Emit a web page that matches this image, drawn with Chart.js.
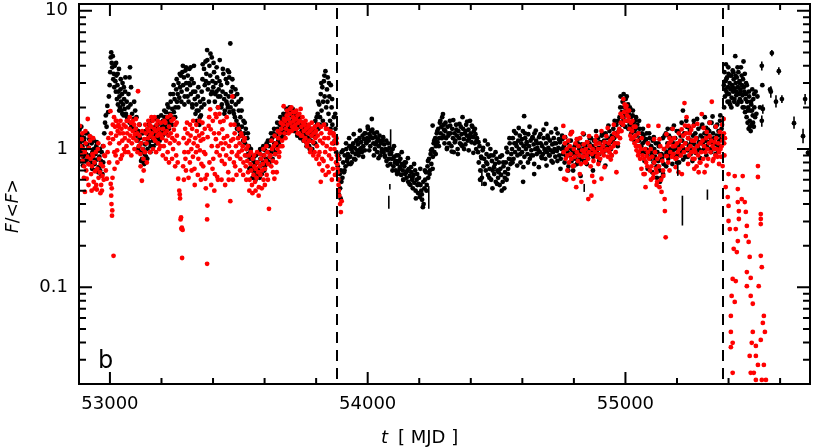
<!DOCTYPE html>
<html>
<head>
<meta charset="utf-8">
<script src="https://cdn.jsdelivr.net/npm/chart.js@4.4.1/dist/chart.umd.min.js"></script>
<style>
  html, body { margin: 0; padding: 0; background: #fff; }
  #wrap { width: 817px; height: 447px; }
</style>
</head>
<body>
<div id="wrap"><canvas id="lc" width="817" height="447"></canvas></div>
<script>
// light curve, normalised flux F/<F> vs MJD
const blackObs = [
  // 52880-52980
  [52882,1.38],[52885,1.12],[52887,0.95],[52890,1.25],[52893,1.05],[52896,0.88],[52899,1.15],[52902,0.98],[52905,1.30],[52908,0.92],
  [52911,1.08],[52914,0.85],[52917,1.02],[52920,1.18],[52923,0.90],[52926,0.80],[52929,1.10],[52932,0.95],[52935,0.86],[52938,1.00],
  [52941,0.78],[52944,0.92],[52947,1.05],[52950,0.84],[52953,0.97],[52956,0.74],[52959,0.88],[52962,0.70],[52965,0.82],[52968,0.95],
  [52971,0.66],[52974,0.80],
  // first flare
  [52978,1.30],[52981,1.55],[52984,1.75],[52987,1.45],[52990,2.05],[52993,1.85],[52996,2.40],[52999,2.9],[53001,3.6],[53003,4.6],
  [53005,5.0],[53007,4.2],[53009,3.9],[53011,4.7],[53013,3.2],[53015,3.5],[53017,2.8],[53019,4.0],
  [53021,3.1],[53023,2.6],[53025,3.4],[53027,2.3],[53029,2.9],[53031,2.1],[53033,2.6],[53035,3.8],[53037,2.4],[53039,2.0],
  [53041,2.7],[53043,2.2],[53045,1.9],[53047,2.5],[53049,3.0],[53051,2.1],[53053,1.75],[53055,2.3],[53057,1.95],[53059,2.6],
  [53062,1.8],[53065,2.2],[53068,1.6],[53071,2.0],[53074,1.7],[53076,3.3],[53078,3.9],[53077,1.55],[53080,2.1],[53083,1.45],
  [53086,1.8],[53089,1.5],[53092,1.65],[53095,1.35],[53098,1.9],
  [53101,1.4],[53104,1.25],[53107,1.15],[53110,1.35],[53113,1.05],[53116,1.20],[53119,0.95],[53122,1.10],[53125,0.85],[53128,1.0],
  [53131,0.80],[53134,0.92],[53137,1.08],[53140,0.88],[53143,1.18],[53146,1.0],[53149,1.28],[53152,1.12],[53155,1.35],[53158,1.05],
  [53161,1.22],[53164,1.4],[53167,1.15],[53170,1.3],[53173,1.2],[53176,1.45],[53179,1.25],[53182,1.35],[53185,1.5],[53188,1.2],
  [53191,1.38],[53194,1.28],[53197,1.55],[53200,1.3],
  // second and third flares
  [53203,1.45],[53206,1.6],[53209,1.35],[53212,1.7],[53215,1.5],[53218,1.85],[53221,1.4],[53224,1.65],[53227,2.0],[53230,1.55],
  [53233,1.8],[53236,2.2],[53239,1.7],[53242,1.95],[53245,2.5],[53248,1.85],[53251,2.3],[53254,2.0],[53257,2.7],[53260,2.2],
  [53263,2.5],[53266,3.0],[53269,2.35],[53272,2.8],
  [53275,3.4],[53278,2.6],[53281,3.6],[53284,2.9],[53287,3.3],[53290,2.4],[53293,3.7],[53296,3.0],[53299,2.7],[53302,3.4],
  [53305,2.2],[53308,3.8],[53311,2.9],[53314,2.5],[53317,3.2],[53320,2.0],[53323,2.6],[53326,4.0],[53329,2.3],[53332,1.8],
  [53335,2.1],[53338,1.6],[53341,2.4],[53344,1.9],[53347,1.5],[53350,2.2],[53353,1.75],
  [53356,2.6],[53359,3.2],[53362,2.3],[53365,3.8],[53368,2.9],[53371,4.3],[53374,3.5],[53377,5.2],[53380,2.7],[53383,3.0],
  [53386,4.0],[53389,3.4],[53392,2.5],[53395,4.6],[53398,3.1],[53401,2.8],[53404,3.6],[53407,2.2],[53410,3.0],[53413,2.6],
  [53416,3.3],[53419,2.0],[53422,2.7],[53425,3.1],[53428,2.4],[53431,2.9],[53434,2.1],[53437,2.6],[53440,3.5],[53443,2.3],
  [53446,1.9],[53449,2.5],[53452,2.2],[53455,3.0],[53457,3.7],[53458,2.0],[53461,2.4],[53463,3.3],[53464,1.85],[53467,5.8],
  [53470,2.6],
  [53473,2.2],[53476,2.8],[53479,1.9],[53482,2.4],[53485,1.7],[53488,2.1],[53491,1.6],[53494,2.5],[53497,1.5],[53500,1.9],
  [53503,1.35],[53506,1.7],[53509,2.3],[53512,1.45],[53515,1.25],[53518,1.6],[53521,1.3],[53524,1.1],[53527,1.4],[53530,1.0],
  [53533,1.2],[53536,0.92],
  // dip and slow rise
  [53539,1.05],[53542,0.85],[53545,0.95],[53548,0.75],[53551,0.88],[53554,0.7],[53557,0.82],[53560,0.65],[53563,0.78],[53566,0.9],
  [53569,0.68],[53572,0.8],[53575,0.72],[53578,0.95],[53581,0.62],[53584,0.85],[53587,0.76],[53590,1.0],[53593,0.8],[53596,0.9],
  [53599,0.7],[53602,0.98],[53605,0.85],[53608,1.1],[53611,0.82],[53614,0.95],
  [53617,1.05],[53620,0.88],[53623,1.15],[53626,0.95],[53629,1.2],[53632,1.0],[53635,1.3],[53638,1.1],[53641,0.92],[53644,1.25],
  [53647,1.05],[53650,1.4],[53653,1.15],[53656,1.3],[53659,1.5],[53662,1.2],[53665,1.35],[53668,1.6],[53671,1.25],[53674,1.45],
  [53677,1.7],[53680,1.35],[53683,1.55],[53686,1.8],[53689,1.4],[53692,1.65],[53695,1.5],[53698,1.9],[53701,1.55],[53704,1.75],
  [53707,1.45],[53710,1.6],[53713,1.85],[53716,1.5],[53719,1.7],[53722,1.4],[53725,1.55],[53728,1.3],[53731,1.65],[53734,1.45],
  [53737,1.25],[53740,1.5],[53743,1.35],[53746,1.2],[53749,1.45],[53752,1.3],[53755,1.15],[53758,1.4],[53761,1.25],[53764,1.1],
  [53767,1.35],[53770,1.2],[53773,1.05],[53776,1.3],[53779,1.15],[53782,1.4],[53785,1.0],[53788,1.25],[53791,1.1],
  [53794,1.35],[53797,1.6],[53800,1.25],[53803,1.5],[53806,1.8],[53809,1.4],[53812,2.1],[53815,1.7],[53818,2.5],[53821,1.9],
  [53824,2.8],[53827,2.2],[53830,3.1],[53833,2.4],[53836,3.66],[53839,2.0],[53842,2.7],[53845,3.3],[53848,1.8],[53851,2.4],
  [53854,1.6],[53857,2.9],[53860,2.0],[53863,1.5],[53866,1.3],[53869,1.7],[53872,1.15],[53875,1.4],[53878,0.95],
  // after the first break
  [53884,0.75],[53887,0.6],[53888,0.47],[53890,0.85],[53893,0.52],[53895,0.44],[53896,0.7],[53899,0.95],[53902,0.62],[53905,0.8],
  [53908,0.68],[53911,0.9],[53914,0.75],[53917,1.0],[53920,0.82],[53923,0.92],[53926,0.78],[53929,1.05],
  [53932,0.88],[53935,1.0],[53938,0.8],[53941,0.95],[53944,1.1],[53947,0.85],[53950,1.02],[53953,0.92],[53956,1.15],[53959,0.98],
  [53962,1.08],[53965,0.9],[53968,1.2],[53971,1.0],[53974,1.12],[53977,0.95],[53980,1.25],[53983,1.05],[53986,1.18],[53989,0.98],
  [53992,1.3],[53995,1.1],[53998,1.2],[54001,1.4],[54004,1.15],[54007,1.28],[54010,1.05],[54013,1.35],[54016,1.65],[54019,1.2],
  [54022,1.1],[54025,1.3],[54028,1.0],[54031,1.22],[54034,1.12],[54037,0.95],[54040,1.18],[54043,1.05],[54046,1.25],[54049,0.9],
  [54052,1.1],[54055,1.0],[54058,1.15],
  [54061,0.95],[54064,1.08],[54067,0.88],[54070,1.0],[54073,0.82],[54076,0.98],[54079,1.1],[54082,0.85],[54085,0.92],[54088,0.78],
  [54091,0.95],[54094,0.85],[54097,1.0],[54100,0.75],[54103,0.88],[54106,0.8],[54109,0.7],[54112,0.9],[54115,0.78],[54118,0.68],
  [54121,0.82],[54124,0.72],[54127,0.85],[54130,0.65],[54133,0.78],[54136,0.7],[54139,0.6],[54142,0.75],[54145,0.66],[54148,0.8],
  [54151,0.62],[54154,0.7],[54157,0.58],[54160,0.72],[54163,0.64],[54166,0.55],[54169,0.68],[54172,0.6],[54175,0.52],[54178,0.65],
  [54181,0.57],[54184,0.7],[54187,0.44],[54190,0.6],[54193,0.55],[54196,0.48],[54199,0.62],[54202,0.45],[54205,0.55],[54208,0.5],
  [54211,0.43],[54214,0.38],[54217,0.4],[54220,0.52],[54223,0.6],
  [54226,0.68],[54229,0.55],[54232,0.75],[54235,0.62],[54238,0.85],[54241,0.7],[54244,0.92],[54247,0.78],[54250,1.0],[54252,1.48],
  [54253,0.88],[54256,1.1],[54259,0.95],[54262,1.2],[54265,1.05],[54268,1.3],[54271,1.12],[54274,1.4],[54277,1.2],[54280,1.55],
  [54283,1.3],[54286,1.45],[54289,1.7],[54292,1.79],[54294,1.25],[54295,1.5],
  [54298,1.1],[54301,1.35],[54304,1.2],[54307,1.0],[54310,1.45],[54313,1.25],[54316,1.1],[54319,1.6],[54322,1.3],[54325,1.05],
  [54328,1.4],[54331,1.2],[54334,0.95],[54337,1.3],[54340,1.15],[54343,1.5],[54346,1.25],[54349,1.0],[54352,1.35],[54355,1.2],
  [54358,1.1],[54361,1.45],[54364,1.28],[54367,1.05],[54370,1.4],[54373,1.18],[54376,1.3],[54379,1.08],[54382,1.5],[54385,1.25],
  [54388,1.15],[54391,1.38],[54394,1.2],[54397,1.6],[54400,1.3],[54403,1.12],[54406,1.45],[54409,1.22],[54412,1.35],[54415,1.1],
  [54418,1.28],[54421,1.0],[54424,1.2],
  [54428,0.95],[54431,0.8],[54434,1.05],[54437,0.7],[54440,0.88],[54443,0.62],[54446,0.98],[54449,0.75],[54452,0.85],[54455,1.15],
  [54458,0.7],[54461,0.92],[54464,0.78],[54467,0.65],[54470,0.88],[54473,0.72],[54476,1.0],[54479,0.6],[54482,0.82],[54485,0.7],
  [54488,0.9],[54491,0.66],[54494,0.78],[54497,0.58],[54500,0.85],[54503,0.7],[54506,0.62],[54509,0.8],[54512,0.55],[54515,0.72],
  [54518,0.65],[54521,0.9],[54524,0.58],[54527,0.75],[54530,0.52],[54533,0.68],[54536,0.8],[54539,0.6],[54542,0.95],[54545,0.72],
  [54548,0.85],[54551,1.1],[54554,0.78],[54557,0.92],
  [54560,1.0],[54563,1.2],[54566,0.85],[54569,1.1],[54572,0.95],[54575,1.3],[54578,1.05],[54581,0.9],[54584,1.15],[54587,1.0],
  [54590,1.25],[54593,0.8],[54596,1.1],[54599,0.95],[54602,1.35],[54603,0.58],[54605,1.05],[54607,1.73],[54608,0.88],[54611,1.2],
  [54614,1.0],[54617,1.12],[54620,0.92],[54623,1.28],[54626,1.05],[54629,0.85],[54632,1.15],[54635,0.98],[54638,1.2],[54641,0.9],
  [54644,1.08],[54646,0.66],[54647,1.3],[54650,1.0],[54653,1.15],[54656,0.92],[54659,1.1],[54662,0.98],[54665,1.22],
  [54668,0.95],[54671,1.1],[54674,0.88],[54677,1.05],[54680,0.92],[54683,1.2],[54686,1.0],[54689,0.85],[54692,1.1],[54693,1.52],
  [54695,0.95],[54698,1.25],[54701,1.02],[54704,0.9],[54707,1.15],[54710,0.98],[54713,0.82],[54716,1.08],[54719,0.95],[54722,1.2],
  [54725,1.0],[54728,0.88],[54731,1.1],[54734,0.97],[54737,1.3],[54740,1.02],[54743,0.9],[54746,1.12],[54749,0.85],[54752,1.0],
  [54755,1.18],[54758,0.92],[54761,1.05],[54764,0.8],[54767,1.0],[54770,0.88],[54773,1.1],[54776,0.95],[54779,0.75],[54782,1.02],
  [54785,0.9],[54788,1.15],[54791,0.82],[54794,0.98],[54797,0.7],[54800,0.92],[54803,1.05],[54806,0.85],[54809,0.95],[54812,0.78],
  [54815,1.1],[54818,0.9],[54821,1.0],[54824,0.84],[54827,0.96],[54830,1.08],[54833,0.88],[54836,1.0],[54839,0.82],[54842,0.94],
  [54845,1.05],[54848,0.9],[54851,1.12],[54854,0.86],[54857,0.98],[54860,1.1],[54863,0.92],[54866,1.2],[54869,0.95],[54872,1.05],
  [54875,0.88],[54878,1.15],[54881,1.0],[54884,0.9],[54887,1.1],[54890,0.98],[54893,1.2],[54896,1.02],[54899,0.92],[54902,1.12],
  [54905,1.0],[54908,1.25],[54911,1.05],[54914,0.95],[54917,1.15],[54920,1.02],[54923,1.3],[54926,1.1],[54929,0.98],[54932,1.2],
  [54935,1.05],[54938,1.35],[54941,1.12],[54944,1.0],[54947,1.25],[54950,1.15],[54953,1.4],[54956,1.2],[54959,1.1],[54962,1.3],
  [54965,1.5],[54968,1.25],[54971,1.6],[54974,1.35],
  [54977,1.7],[54980,2.0],[54983,1.55],[54986,1.85],[54989,2.2],[54992,1.65],[54995,2.0],[54998,1.75],[55001,2.3],[55004,1.9],
  [55007,1.6],[55010,2.1],[55013,1.8],[55016,1.5],[55019,1.95],[55022,1.7],[55025,1.45],[55028,1.75],[55031,1.55],[55034,1.35],
  [55037,1.6],[55040,1.4],[55043,1.25],[55046,1.5],[55049,1.3],[55052,1.15],[55055,1.4],[55058,1.2],[55061,1.05],[55064,1.3],
  [55067,1.1],[55070,1.25],[55073,0.95],[55076,1.15],[55079,1.0],[55082,1.3],[55085,0.9],[55088,1.1],[55091,0.98],[55094,1.2],
  [55097,0.85],[55100,1.05],[55103,0.92],[55106,1.15],[55109,0.8],[55112,1.0],[55115,0.88],[55118,1.1],[55121,0.75],[55124,0.95],
  [55127,0.82],[55130,1.05],[55133,0.7],[55136,0.9],[55139,0.62],[55142,0.85],[55145,1.2],[55148,0.78],[55151,1.0],[55154,0.9],
  [55157,1.3],[55160,0.95],[55163,1.1],[55166,0.85],[55169,1.25],[55172,1.0],[55175,0.9],[55178,1.15],[55181,1.4],[55184,0.98],
  [55187,1.1],[55190,0.88],[55193,1.2],[55196,1.0],[55199,1.35],[55202,0.92],[55205,1.1],[55208,0.8],[55211,1.05],[55214,1.25],
  [55217,0.95],[55220,1.15],[55223,1.9],[55226,1.0],[55229,1.3],[55232,0.88],[55235,1.1],[55238,1.45],[55241,0.98],[55244,1.2],
  [55247,1.05],[55250,1.35],[55253,0.92],[55256,1.15],[55259,1.0],[55262,1.25],[55265,1.6],[55268,1.08],[55271,1.3],[55274,0.95],
  [55277,1.2],[55280,1.05],[55283,1.4],[55286,1.12],[55289,0.98],[55292,1.25],[55295,1.1],[55298,1.5],[55301,1.2],[55304,1.0],
  [55307,1.3],[55310,1.15],[55313,1.42],[55316,1.05],[55319,1.25],[55322,1.12],[55325,1.35],[55328,1.0],[55331,1.2],[55334,1.55],
  [55337,1.1],[55340,1.3],[55343,1.0],[55346,1.2],[55349,1.45],[55352,1.08],[55355,1.25],[55358,0.98],[55361,1.35],[55364,1.15],
  [55367,1.6],[55370,1.25],[55373,1.4],
  // after the second break
  [55382,2.9],[55384,3.6],[55386,2.4],[55388,3.1],[55390,4.1],[55392,2.6],[55394,3.3],[55396,2.2],[55398,2.8],[55400,3.5],
  [55402,2.5],[55404,3.0],[55406,2.1],[55408,2.7],[55410,3.4],[55412,2.35],[55414,2.9],[55416,3.7],[55418,2.6],[55420,3.2],
  [55422,2.2],[55424,2.75],[55426,4.7],[55428,3.0],[55430,2.45],[55432,3.3],[55434,2.1],[55436,2.8],[55438,3.6],[55440,2.5],
  [55442,3.1],[55444,2.3],[55446,2.7],[55448,3.9],[55450,2.2],[55452,2.9],[55454,2.45],[55456,3.2],[55458,4.3],[55460,2.0],
  [55462,2.6],[55464,1.85],[55466,2.3],[55468,3.0],[55470,1.7],[55472,2.2],[55474,1.55],[55476,2.0],[55478,1.4],[55480,2.4],
  [55482,1.6],[55484,1.9],[55486,1.35],[55488,2.1],[55490,1.5],[55492,2.7],[55494,1.75],[55496,2.3],[55498,1.45],[55500,2.0],
  [55505,2.6],[55508,1.8],[55512,2.4],
  [55522,2.0],[55529,4.0],[55529,1.6],[55531,2.9],[55533,1.95],[55561,2.7],[55564,2.6],[55568,4.95],[55584,2.2],[55595,3.66],
  [55607,2.3],[55654,1.54],[55689,1.24],[55697,2.3],[55708,0.94],
  // upper and lower edges of the scatter band
  [52884,0.82],[52889,1.45],[52895,0.76],[52900,1.2],[52906,0.82],[52912,1.3],[52918,0.78],[52925,1.22],[52931,0.72],[52937,1.15],
  [52943,0.7],[52949,1.12],[52955,0.68],[52961,1.0],[52967,0.64],[52973,1.05],
  [53024,4.2],[53030,3.5],[53036,1.9],[53042,3.2],[53048,1.8],[53054,2.8],[53060,3.3],[53066,1.7],[53072,2.5],[53082,2.8],
  [53088,1.4],[53094,2.2],
  [53103,1.7],[53109,1.0],[53115,1.5],[53121,0.82],[53127,1.3],[53133,0.78],[53139,1.35],[53145,0.85],[53151,1.5],[53157,0.95],
  [53163,1.6],[53169,1.05],[53175,1.65],[53181,1.1],[53187,1.7],[53193,1.15],[53199,1.75],
  [53205,1.25],[53211,1.9],[53217,1.3],[53223,2.1],[53229,1.4],[53235,2.5],[53241,1.5],[53247,2.9],[53253,1.7],[53259,3.2],
  [53265,2.0],[53271,3.5],[53277,2.2],[53283,4.0],[53289,2.1],[53295,3.9],[53301,2.4],[53307,3.0],[53313,3.9],[53319,2.1],
  [53325,3.0],[53331,2.6],[53337,1.9],[53343,2.8],[53349,1.7],[53355,2.0],
  [53360,4.1],[53366,2.1],[53372,3.1],[53378,4.4],[53384,2.2],[53390,4.9],[53396,2.6],[53402,4.2],[53408,2.5],[53414,3.9],
  [53420,2.4],[53426,4.4],[53432,2.0],[53438,3.8],[53444,1.8],[53450,3.2],[53456,2.1],[53462,3.6],[53468,2.0],
  [53475,3.2],[53481,1.8],[53487,2.7],[53493,1.4],[53499,2.2],[53505,1.25],[53511,1.9],[53517,1.15],[53523,1.55],[53529,0.9],
  [53535,1.3],
  [53541,0.72],[53547,1.0],[53553,0.62],[53559,0.88],[53565,0.6],[53571,0.92],[53577,0.64],[53583,1.0],[53589,0.66],[53595,1.05],
  [53601,0.75],[53607,0.8],[53613,1.15],
  [53619,0.8],[53625,1.3],[53631,0.85],[53637,1.4],[53643,0.95],[53649,1.55],[53655,1.1],[53661,1.7],[53667,1.2],[53673,1.8],
  [53679,1.3],[53685,1.95],[53691,1.35],[53697,2.0],[53703,1.4],[53709,1.95],[53715,1.35],[53721,1.8],[53727,1.25],[53733,1.7],
  [53739,1.2],[53745,1.55],[53751,1.15],[53757,1.5],[53763,1.05],[53769,1.45],[53775,1.0],[53781,1.3],[53787,0.95],
  [53796,1.1],[53802,1.7],[53808,2.2],[53814,1.5],[53820,3.0],[53826,1.6],[53832,3.4],[53838,1.5],[53844,2.2],[53850,3.0],
  [53856,1.4],[53862,2.3],[53868,1.1],[53874,1.8],
  [53886,0.9],[53892,0.66],[53898,0.58],[53904,0.98],[53910,0.7],[53916,1.1],[53922,0.86],[53928,1.2],[53934,0.78],[53940,1.05],
  [53946,1.28],[53952,0.84],[53958,1.15],[53964,0.95],[53970,1.36],[53976,1.02],[53982,0.88],[53988,1.3],[53994,1.12],[54000,1.45],
  [54006,0.98],[54012,1.22],[54018,1.38],[54024,0.9],[54030,1.08],[54036,1.32],[54042,0.86],[54048,1.15],[54054,0.96],[54060,1.22],
  [54066,0.9],[54072,1.15],[54078,0.76],[54084,1.02],[54090,0.92],[54096,0.7],[54102,1.05],[54108,0.82],[54114,0.66],[54120,0.9],
  [54126,0.74],[54132,0.95],[54138,0.6],[54144,0.8],[54150,0.68],[54156,0.86],[54162,0.56],[54168,0.74],[54174,0.62],[54180,0.78],
  [54186,0.5],[54192,0.66],[54198,0.56],[54204,0.72],[54210,0.47],[54216,0.58],[54222,0.7],
  [54228,0.5],[54234,0.82],[54240,0.66],[54246,0.98],[54252,0.72],[54258,1.15],[54264,0.92],[54270,1.35],[54276,1.05],[54282,1.6],
  [54288,1.2],[54296,1.38],
  [54302,1.55],[54308,1.02],[54314,1.3],[54320,1.48],[54326,0.96],[54332,1.62],[54338,1.12],[54344,1.38],[54350,0.92],[54356,1.52],
  [54362,1.08],[54368,1.7],[54374,1.0],[54380,1.35],[54386,1.58],[54392,0.98],[54398,1.25],[54404,1.48],[54410,0.94],[54416,1.4],
  [54422,1.15],
  [54430,1.12],[54436,0.6],[54442,0.86],[54448,1.02],[54454,0.56],[54460,0.8],[54466,1.08],[54472,0.62],[54478,0.9],[54484,0.52],
  [54490,0.74],[54496,0.95],[54502,0.56],[54508,0.68],[54514,0.88],[54520,0.5],[54526,0.8],[54532,0.62],[54538,1.02],[54544,0.66],
  [54550,1.2],[54556,0.84],
  [54562,0.8],[54568,1.35],[54574,1.1],[54580,0.76],[54586,1.42],[54592,0.92],[54598,1.18],[54604,0.74],[54610,1.3],[54616,1.08],
  [54622,0.8],[54628,1.45],[54634,0.9],[54640,1.22],[54646,0.78],[54652,1.36],[54658,1.02],[54664,0.74],[54670,1.28],[54676,0.86],
  [54682,1.38],[54688,0.98],[54694,0.76],[54700,1.2],[54706,0.9],[54712,1.32],[54718,0.8],[54724,1.1],[54730,1.4],[54736,0.82],
  [54742,1.18],[54748,0.72],[54754,1.25],
  [54766,1.22],[54778,0.7],[54790,1.32],[54802,0.76],[54814,1.18],[54826,0.64],[54838,1.28],[54850,0.78],[54862,1.2],[54874,0.7],
  [54886,1.35],[54898,0.82],[54910,1.3],[54922,0.76],[54934,1.48],[54946,0.9],[54958,1.6],[54970,1.05],
  [54981,2.4],[54987,1.5],[54993,2.5],[54999,1.45],[55005,2.4],[55011,1.4],[55017,2.0],[55023,1.3],[55029,1.9],[55035,1.15],
  [55041,1.7],[55047,1.05],[55053,1.6],[55059,0.95],
  [55068,1.4],[55074,0.82],[55080,1.18],[55086,0.72],[55092,1.3],[55098,0.95],[55104,0.68],[55110,1.22],[55116,0.85],[55122,0.62],
  [55128,1.1],[55134,0.58],[55140,0.92],[55146,0.66],[55152,1.25],[55158,0.75],[55164,1.4],[55170,0.9],[55176,1.2],[55182,0.78],
  [55188,1.48],[55194,1.05],[55200,0.8],[55206,1.35],[55212,0.9],[55218,1.55],[55224,0.84],[55230,1.3],[55236,1.6],[55242,0.88],
  [55248,1.42],[55254,1.1],[55260,0.82],[55266,1.5],[55272,0.94],[55278,1.65],[55284,1.0],[55290,0.86],[55296,1.45],[55302,1.12],
  [55308,1.7],[55314,0.9],[55320,1.38],[55326,1.55],[55332,0.95],[55338,1.72],[55344,1.18],[55350,0.92],[55356,1.5],[55362,1.05],
  [55368,1.75],[55374,1.2],
  [55383,2.0],[55387,2.7],[55391,3.2],[55395,2.5],[55399,3.9],[55403,2.2],[55407,3.4],[55411,2.0],[55415,2.8],[55419,3.6],
  [55423,2.3],[55427,3.4],[55431,2.6],[55435,3.9],[55439,2.2],[55443,3.0],[55447,2.6],[55451,3.4],[55455,2.0],[55459,2.8],
  [55463,3.5],[55467,2.5],[55471,2.9],[55475,1.9],[55479,2.6],[55483,1.45],[55487,2.2],[55491,1.9],[55495,1.55],[55499,2.5],
  [55503,1.7]
];

const redObs = [
  // 52880-53060
  [52883,1.47],[52886,1.05],[52889,0.9],[52891,1.18],[52894,0.82],[52897,1.0],[52900,0.75],[52903,0.95],[52903,0.49],[52906,1.1],
  [52908,0.7],[52910,0.61],[52912,0.88],[52914,1.65],[52916,0.78],[52919,1.02],[52922,1.24],[52925,0.85],[52927,0.66],[52930,0.75],
  [52932,0.92],[52934,0.89],[52937,0.58],[52940,0.8],[52942,0.69],[52945,0.95],[52947,0.55],[52949,0.51],[52951,0.72],[52953,1.0],
  [52956,0.62],[52958,0.85],[52961,0.68],[52964,0.78],[52966,0.55],[52969,0.5],[52971,0.64],[52973,0.75],[52976,0.6],[52978,0.9],
  [52981,0.89],[52984,0.7],[52988,0.61],
  [52991,0.95],[52994,1.2],[52997,0.8],[53000,1.1],[53002,1.88],[53003,0.56],[53004,1.3],[53005,0.46],[53006,0.4],[53007,0.52],
  [53008,0.33],[53009,0.36],[53010,0.62],[53012,1.18],[53014,0.169],[53016,1.7],[53018,0.72],[53020,1.45],[53022,0.9],[53024,1.25],
  [53026,1.6],[53028,0.98],[53030,1.35],[53033,1.5],[53036,1.1],[53039,1.3],[53042,0.85],[53045,1.4],[53048,1.15],[53051,1.3],
  [53054,1.0],
  // 53060-53300
  [53058,1.2],[53061,1.45],[53064,1.05],[53067,1.3],[53070,1.6],[53073,1.15],[53076,1.4],[53079,1.25],[53082,1.55],[53085,1.1],
  [53088,1.35],[53091,1.2],[53094,1.5],[53097,1.28],[53100,1.4],[53103,1.15],[53106,1.3],[53109,2.62],[53112,1.05],[53115,1.25],
  [53118,0.92],[53121,1.1],[53124,0.59],[53127,1.0],[53130,0.85],[53133,1.18],[53136,0.95],[53139,1.3],[53142,1.1],[53145,1.4],
  [53148,1.2],[53151,1.35],[53154,1.5],[53157,1.25],[53160,1.45],[53163,1.3],[53166,1.6],[53169,1.2],[53172,1.4],[53175,1.15],
  [53178,1.35],[53181,1.5],[53184,1.25],[53187,1.1],[53190,1.4],[53193,1.3],[53196,1.05],[53199,1.25],
  [53203,1.2],[53206,1.4],[53209,1.05],[53212,1.3],[53215,1.55],[53218,1.15],[53221,1.35],[53224,0.95],[53227,1.25],[53230,1.45],
  [53233,1.1],[53236,1.3],[53239,1.6],[53242,1.2],[53245,1.0],[53248,1.38],[53251,1.15],[53254,1.5],[53257,0.9],[53260,1.25],
  [53263,0.8],[53265,0.61],[53267,1.1],[53269,0.5],[53271,0.47],[53272,0.44],[53274,0.31],[53276,0.32],[53277,0.265],[53279,0.27],
  [53280,0.163],[53282,0.26],[53284,0.75],[53286,1.2],[53289,0.95],[53292,1.4],[53295,0.7],[53298,1.1],
  // 53300-53500
  [53301,1.3],[53304,0.95],[53307,1.15],[53310,0.8],[53313,1.25],[53316,1.0],[53319,1.4],[53322,0.88],[53325,1.1],[53328,0.72],
  [53331,1.2],[53334,0.95],[53337,1.35],[53340,1.05],[53343,0.85],[53346,1.25],[53349,0.98],[53352,1.15],[53355,0.78],[53358,1.3],
  [53362,1.18],[53362,0.75],[53365,0.95],[53368,1.4],[53370,0.92],[53370,0.61],[53372,0.52],[53376,0.65],[53377,0.31],[53377,0.148],
  [53378,0.39],[53379,1.22],[53383,1.47],[53386,0.8],[53389,1.94],[53391,1.39],[53395,1.05],[53398,0.72],[53401,0.85],[53404,1.3],
  [53407,0.66],[53409,1.79],[53411,1.18],[53414,0.95],[53416,0.63],[53418,1.05],[53420,2.0],[53423,1.3],[53426,0.9],[53428,1.57],
  [53431,1.1],[53434,0.82],[53436,1.39],[53439,1.0],[53442,1.2],[53445,0.78],[53448,1.1],[53451,0.9],[53455,1.24],[53459,0.68],
  [53462,1.05],[53465,0.85],[53467,0.42],[53470,1.15],[53473,0.95],[53475,2.4],[53478,1.18],[53481,0.8],[53484,1.3],[53486,0.75],
  [53489,1.05],[53492,0.9],[53494,0.89],
  // 53500-53620
  [53497,1.2],[53500,0.95],[53503,1.1],[53506,0.85],[53509,1.3],[53512,0.98],[53515,1.05],[53518,0.8],[53521,1.15],[53524,0.9],
  [53527,0.75],[53530,1.0],[53533,0.82],[53536,0.68],[53539,0.9],[53542,0.6],[53545,0.78],[53548,0.7],[53551,0.55],[53554,0.85],
  [53557,0.65],[53560,0.75],[53563,0.58],[53566,0.72],[53569,0.62],[53572,0.8],[53575,0.68],[53578,0.53],[53581,0.75],[53584,0.65],
  [53587,0.85],[53590,0.7],[53593,0.78],[53596,0.6],[53599,0.9],[53602,0.72],[53605,0.82],[53608,0.65],[53611,0.95],[53614,0.78],
  [53617,0.37],[53620,0.88],
  // 53620-53900
  [53623,0.9],[53626,0.75],[53629,1.0],[53632,0.82],[53635,1.05],[53638,0.61],[53641,0.92],[53644,1.1],[53647,0.68],[53650,1.0],
  [53653,1.2],[53656,0.88],[53659,1.3],[53662,1.05],[53665,1.4],[53668,1.15],[53671,1.5],[53674,2.04],[53677,1.3],[53680,1.6],
  [53683,1.4],[53686,1.75],[53689,1.5],[53692,1.65],[53695,1.35],[53698,1.8],[53701,1.55],[53704,2.0],[53707,1.45],[53710,1.7],
  [53713,1.6],[53716,1.85],[53719,1.5],[53722,1.65],[53725,1.4],[53728,1.75],[53731,1.55],[53734,1.3],[53737,1.6],[53740,1.95],
  [53743,1.45],[53746,1.25],[53749,1.55],[53752,1.35],[53755,1.5],[53758,1.2],[53761,1.4],[53764,1.1],[53767,1.3],[53770,1.45],
  [53773,1.15],[53776,1.35],[53779,1.0],[53782,1.25],[53785,1.4],[53788,1.12],[53791,1.3],[53794,0.95],[53797,1.2],[53800,1.35],
  [53803,1.05],[53806,1.25],[53809,0.9],[53812,0.78],[53815,1.15],[53818,0.58],[53820,1.3],[53823,0.85],[53826,1.1],[53829,0.82],
  [53832,1.2],[53835,0.95],[53838,1.4],[53841,1.05],[53844,0.75],[53847,1.2],[53850,0.9],[53853,1.3],[53856,1.0],[53859,0.85],
  [53862,1.1],[53865,0.72],[53868,1.25],[53871,1.0],[53874,1.15],[53877,0.8],
  [53880,1.1],[53881,0.9],[53882,0.78],[53883,0.72],[53884,0.68],[53885,0.85],[53886,0.6],[53887,0.55],[53888,0.5],[53890,0.46],
  [53893,0.4],[53896,0.35],[53899,0.42],
  // 54760-55380
  [54759,1.47],[54760,0.95],[54762,0.61],[54765,1.1],[54768,0.85],[54770,0.6],[54772,1.0],[54775,0.9],[54778,1.15],[54781,0.8],
  [54784,1.05],[54787,0.92],[54790,0.85],[54793,1.33],[54796,0.75],[54798,0.61],[54800,1.0],[54803,0.88],[54806,1.1],[54809,0.53],
  [54812,0.95],[54815,0.82],[54818,1.05],[54821,0.9],[54824,1.2],[54827,0.78],[54829,0.58],[54832,0.98],[54835,0.88],[54838,1.08],
  [54840,0.95],[54843,0.8],[54846,1.0],[54849,0.9],[54852,1.12],[54855,0.85],[54856,0.435],[54859,0.95],[54862,1.05],[54865,0.75],
  [54868,0.46],[54870,0.92],[54873,1.0],[54876,0.82],[54879,0.58],[54882,0.95],[54885,1.08],[54887,1.24],[54890,0.88],[54893,1.0],
  [54896,0.92],[54899,1.1],[54902,0.85],[54905,1.0],[54907,0.61],[54910,0.95],[54913,1.05],[54916,0.9],[54919,1.12],[54922,0.98],
  [54926,1.24],[54929,1.0],[54932,0.88],[54935,1.1],[54938,0.95],[54941,1.15],[54944,1.02],[54947,0.9],[54950,1.2],[54953,1.05],
  [54956,1.3],[54959,1.1],[54962,0.95],[54965,0.68],[54968,1.25],[54971,1.1],[54973,1.33],[54976,1.4],[54979,1.2],[54982,1.55],
  [54985,1.35],[54988,1.7],[54991,1.5],[54992,2.3],[54995,1.85],[54998,1.6],[55001,2.0],[55004,2.05],[55007,1.75],[55010,1.6],
  [55012,1.7],[55014,1.9],[55016,1.4],[55019,1.25],[55021,1.55],[55023,1.18],[55026,1.35],[55029,1.2],[55032,1.45],[55035,1.1],
  [55038,1.25],[55041,1.05],[55043,0.98],[55046,1.15],[55049,0.9],[55051,0.95],[55054,1.05],[55057,0.85],[55060,1.0],[55062,0.72],
  [55066,0.9],[55070,0.66],[55073,0.85],[55076,1.0],[55078,0.53],[55080,0.8],[55082,0.89],[55085,0.75],[55087,0.95],[55089,1.47],
  [55092,0.85],[55095,0.7],[55098,1.0],[55101,0.75],[55104,0.88],[55107,0.62],[55109,0.66],[55112,0.8],[55115,0.95],[55118,0.72],
  [55121,0.55],[55121,0.68],[55124,0.85],[55128,1.47],[55130,0.75],[55132,1.18],[55132,0.53],[55135,0.9],[55138,0.6],[55140,0.49],
  [55143,0.82],[55146,0.7],[55149,1.0],[55152,0.435],[55153,0.356],[55156,0.23],[55158,0.89],[55160,0.89],[55163,1.05],[55166,0.8],
  [55169,1.1],[55171,1.2],[55174,0.95],[55177,1.15],[55180,0.88],[55183,1.05],[55186,0.92],[55189,1.2],[55191,1.05],[55194,0.85],
  [55198,0.86],[55200,1.1],[55203,0.95],[55206,0.68],[55209,1.0],[55212,1.15],[55215,0.9],[55218,1.39],[55221,1.05],[55224,1.25],
  [55227,0.95],[55229,2.15],[55232,1.1],[55235,1.3],[55237,1.7],[55240,1.0],[55243,1.2],[55245,1.47],[55247,0.9],[55249,1.3],
  [55252,1.05],[55255,0.95],[55258,1.15],[55261,0.85],[55264,1.47],[55266,1.0],[55268,1.15],[55268,0.85],[55271,0.95],[55274,1.2],
  [55276,0.75],[55279,1.05],[55282,0.9],[55284,0.68],[55288,0.8],[55291,1.1],[55294,0.95],[55296,1.79],[55299,1.15],[55302,0.85],
  [55305,1.05],[55307,0.68],[55310,0.95],[55313,1.2],[55315,1.33],[55318,1.0],[55321,0.85],[55324,1.1],[55327,1.24],[55330,0.95],
  [55333,1.15],[55335,2.2],[55338,1.05],[55342,0.85],[55344,1.0],[55346,1.12],[55349,0.9],[55352,1.2],[55354,1.0],[55357,0.88],
  [55360,1.1],[55363,0.95],[55366,1.33],[55369,1.0],[55371,0.88],[55373,1.05],[55376,1.15],[55378,1.24],
  // after the second break: steep fading
  [55381,1.65],[55382,1.3],[55383,1.1],[55384,0.9],[55386,1.2],[55377,0.754],
  [55400,0.66],[55424,0.638],[55455,0.638],[55389,0.531],[55436,0.514],[55397,0.45],[55451,0.435],[55436,0.414],[55463,0.414],[55400,0.388],
  [55440,0.356],[55467,0.351],[55400,0.302],[55440,0.312],[55471,0.278],[55405,0.264],[55428,0.264],[55436,0.216],[55467,0.235],[55420,0.19],
  [55432,0.18],[55478,0.213],[55482,0.166],[55514,0.754],[55514,0.628],[55525,0.339],[55525,0.312],[55525,0.287],[55525,0.169],[55529,0.14],
  [55416,0.115],[55428,0.111],[55471,0.129],[55486,0.117],[55471,0.102],[55517,0.102],[55412,0.0867],[55424,0.0784],[55486,0.0867],[55494,0.0761],
  [55409,0.0621],[55537,0.0621],[55533,0.0553],[55409,0.0476],[55494,0.0476],[55541,0.0476],[55525,0.0417],[55416,0.0397],[55490,0.0397],[55409,0.0369],
  [55506,0.0377],[55482,0.0319],[55506,0.0319],[55514,0.0275],[55537,0.0275],[55416,0.0241],[55486,0.0241],[55498,0.0241],[55506,0.0214],[55529,0.0214],
  [55545,0.0214],
  // upper and lower edges of the scatter band
  [52893,1.3],[52899,0.62],[52905,1.35],[52917,0.55],[52923,1.15],[52929,0.5],[52935,1.2],[52941,0.52],[52955,1.1],[52963,0.48],
  [52975,1.05],
  [53011,1.5],[53017,0.95],[53023,1.6],[53029,0.8],[53035,1.45],[53041,1.6],[53047,0.9],[53053,1.5],[53059,0.95],[53065,1.6],
  [53071,0.95],[53077,1.7],[53083,0.9],[53089,1.6],[53095,1.0],[53101,1.65],[53107,0.95],[53113,1.5],[53119,0.75],[53125,1.35],
  [53131,0.7],[53137,1.5],[53143,0.8],[53149,1.6],[53155,0.95],[53161,1.7],[53167,1.0],[53173,1.7],[53179,0.95],[53185,1.6],
  [53191,1.0],[53197,1.55],
  [53205,0.9],[53211,1.6],[53217,0.85],[53223,1.7],[53229,0.8],[53235,1.75],[53241,0.85],[53247,1.65],[53253,0.75],[53259,1.55],
  [53287,0.6],[53293,0.85],[53299,1.55],[53305,0.62],[53311,1.5],[53317,0.7],[53323,1.6],[53329,0.55],[53335,1.5],[53341,0.65],
  [53347,1.6],[53353,0.6],[53359,1.55],
  [53385,1.7],[53393,0.55],[53399,1.6],[53405,0.5],[53413,1.7],[53419,0.6],[53425,1.8],[53433,0.6],[53441,1.6],[53447,0.55],
  [53453,1.7],[53461,0.6],[53469,1.5],[53477,0.6],[53483,1.5],[53491,0.65],
  [53499,1.4],[53505,0.7],[53511,1.25],[53517,0.65],[53523,1.2],[53529,0.6],[53535,1.05],[53541,0.5],[53547,0.95],[53553,0.48],
  [53559,0.9],[53565,0.5],[53571,0.95],[53577,0.46],[53583,0.92],[53589,0.52],[53595,1.0],[53601,0.55],[53607,1.05],[53613,0.6],
  [53627,1.15],[53633,0.68],[53639,1.25],[53645,0.8],[53651,1.35],[53657,0.95],[53663,1.55],[53669,1.05],[53675,1.65],[53681,1.2],
  [53687,1.9],[53693,1.3],[53699,1.95],[53705,1.35],[53711,1.85],[53717,1.4],[53723,1.9],[53729,1.3],[53735,1.8],[53741,1.25],
  [53747,1.7],[53753,1.15],[53759,1.6],[53765,1.05],[53771,1.5],[53777,0.95],[53783,1.55],[53789,0.9],[53795,1.45],[53801,0.85],
  [53807,1.5],[53813,0.95],[53819,1.45],[53825,0.7],[53831,1.5],[53837,0.65],[53843,1.4],[53849,0.68],[53855,1.35],[53861,0.6],
  [53867,1.3],[53873,0.65],[53879,1.2],
  [54763,1.22],[54775,0.7],[54787,1.28],[54799,0.76],[54811,1.18],[54823,0.66],[54835,1.3],[54847,0.8],[54859,1.24],[54871,0.64],
  [54883,1.15],[54895,0.78],[54907,1.35],[54919,0.74],[54931,1.42],[54943,0.84],[54955,1.5],[54981,1.8],[54997,2.1],[55009,1.9],
  [55027,1.6],[55039,1.45],[55051,1.3],[55063,1.2],[55075,0.66],[55087,1.1],[55099,0.6],[55111,1.18],[55123,0.58],[55135,1.05],
  [55147,0.64],[55159,1.28],[55171,0.7],[55183,1.4],[55195,0.74],[55207,1.3],[55219,0.66],[55231,1.48],[55243,0.78],[55255,1.38],
  [55267,0.72],[55279,1.52],[55291,0.8],[55303,1.42],[55315,0.76],[55327,1.55],[55339,0.82],[55351,1.45],[55363,0.78],[55375,1.5]
];

// error bars on black points: [MJD, low, high]
const errBars = [
  [54082,0.37,0.46],[54086,0.51,0.56],[54089,1.05,1.39],[54237,0.37,0.54],[54443,0.54,0.72],[54840,0.49,0.56],
  [55203,0.64,0.81],[55221,0.28,0.46],[55318,0.43,0.51],
  [55529,3.7,4.3],[55568,4.7,5.2],[55595,3.45,3.9],[55564,2.35,2.85],[55584,2.0,2.45],[55607,2.15,2.45],
  [55533,1.8,2.1],[55529,1.45,1.75],[55654,1.4,1.72],[55689,1.1,1.4],[55708,0.9,0.98],[55697,2.1,2.5]
];

const breaks = [53882, 55377];
const xMajor = [53000, 54000, 55000];
const xMinor = [53200, 53400, 53600, 53800, 54200, 54400, 54600, 54800, 55200, 55400, 55600];
const yMajor = [0.1, 1, 10];
const yMinor = [0.03, 0.04, 0.05, 0.06, 0.07, 0.08, 0.09, 0.2, 0.3, 0.4, 0.5, 0.6, 0.7, 0.8, 0.9, 2, 3, 4, 5, 6, 7, 8, 9];

const FONT = "DejaVu Sans";

const frame = {
  id: "frame",
  afterDatasetsDraw(chart) {
    const { ctx, chartArea: a, scales: { x, y } } = chart;
    ctx.save();

    // error bars
    ctx.strokeStyle = "#000";
    ctx.lineWidth = 1.6;
    errBars.forEach(([t, lo, hi]) => {
      const px = x.getPixelForValue(t);
      ctx.beginPath();
      ctx.moveTo(px, y.getPixelForValue(lo));
      ctx.lineTo(px, y.getPixelForValue(hi));
      ctx.stroke();
    });

    // dashed break lines
    ctx.lineWidth = 2;
    ctx.setLineDash([11, 7]);
    breaks.forEach(t => {
      const px = Math.round(x.getPixelForValue(t));
      ctx.beginPath();
      ctx.moveTo(px, a.top + 4);
      ctx.lineTo(px, a.bottom);
      ctx.stroke();
    });
    ctx.setLineDash([]);

    // box
    ctx.strokeRect(a.left, a.top, a.right - a.left, a.bottom - a.top);

    // inward ticks on all four sides
    const tick = (px, len, vertical) => {
      ctx.beginPath();
      if (vertical) {
        ctx.moveTo(px, a.bottom); ctx.lineTo(px, a.bottom - len);
        ctx.moveTo(px, a.top); ctx.lineTo(px, a.top + len);
      } else {
        ctx.moveTo(a.left, px); ctx.lineTo(a.left + len, px);
        ctx.moveTo(a.right, px); ctx.lineTo(a.right - len, px);
      }
      ctx.stroke();
    };
    xMajor.forEach(v => tick(x.getPixelForValue(v), 12, true));
    xMinor.forEach(v => tick(x.getPixelForValue(v), 6, true));
    yMajor.forEach(v => tick(y.getPixelForValue(v), 13, false));
    yMinor.forEach(v => tick(y.getPixelForValue(v), 7, false));

    // axis titles
    ctx.fillStyle = "#000";
    ctx.textBaseline = "alphabetic";
    ctx.textAlign = "left";
    ctx.font = "italic 18px " + FONT;
    ctx.fillText("t", 381, 443);
    ctx.font = "18px " + FONT;
    ctx.fillText("[ MJD ]", 398, 443);

    ctx.save();
    ctx.translate(18, 233);
    ctx.rotate(-Math.PI / 2);
    const parts = [["F", true], ["/<", false], ["F", true], [">", false]];
    let off = 0;
    parts.forEach(([s, it]) => {
      ctx.font = (it ? "italic " : "") + "17px " + FONT;
      ctx.fillText(s, off, 0);
      off += ctx.measureText(s).width;
    });
    ctx.restore();

    ctx.font = "24px " + FONT;
    ctx.fillText("b", 98, 368);
    ctx.restore();
  }
};

new Chart(document.getElementById("lc"), {
  type: "scatter",
  data: {
    datasets: [
      {
        data: redObs.map(([t, f]) => ({ x: t, y: f })),
        backgroundColor: "#ff0000",
        pointRadius: 2.4,
        borderWidth: 0,
        order: 0
      },
      {
        data: blackObs.map(([t, f]) => ({ x: t, y: f })),
        backgroundColor: "#000000",
        pointRadius: 2.4,
        borderWidth: 0,
        order: 1
      }
    ]
  },
  options: {
    responsive: false,
    animation: false,
    devicePixelRatio: 1,
    layout: { padding: { top: 4, right: 7, left: 0, bottom: 0 } },
    plugins: { legend: { display: false }, tooltip: { enabled: false } },
    scales: {
      x: {
        type: "linear",
        min: 52880,
        max: 55716,
        grid: { display: false, drawTicks: false },
        border: { display: false },
        afterBuildTicks: s => { s.ticks = xMajor.map(v => ({ value: v })); },
        afterFit: s => { s.height = 63; s.paddingLeft = 0; s.paddingRight = 0; },
        ticks: {
          color: "#000",
          padding: 10,
          maxRotation: 0,
          font: { family: FONT, size: 18 },
          callback: v => String(v)
        }
      },
      y: {
        type: "logarithmic",
        min: 0.02,
        max: 11.2,
        grid: { display: false, drawTicks: false },
        border: { display: false },
        afterBuildTicks: s => { s.ticks = yMajor.map(v => ({ value: v })); },
        afterFit: s => { s.width = 79; s.paddingTop = 0; s.paddingBottom = 0; },
        ticks: {
          color: "#000",
          padding: 11,
          font: { family: FONT, size: 18 },
          callback: v => String(v)
        }
      }
    }
  },
  plugins: [frame]
});
</script>
</body>
</html>
